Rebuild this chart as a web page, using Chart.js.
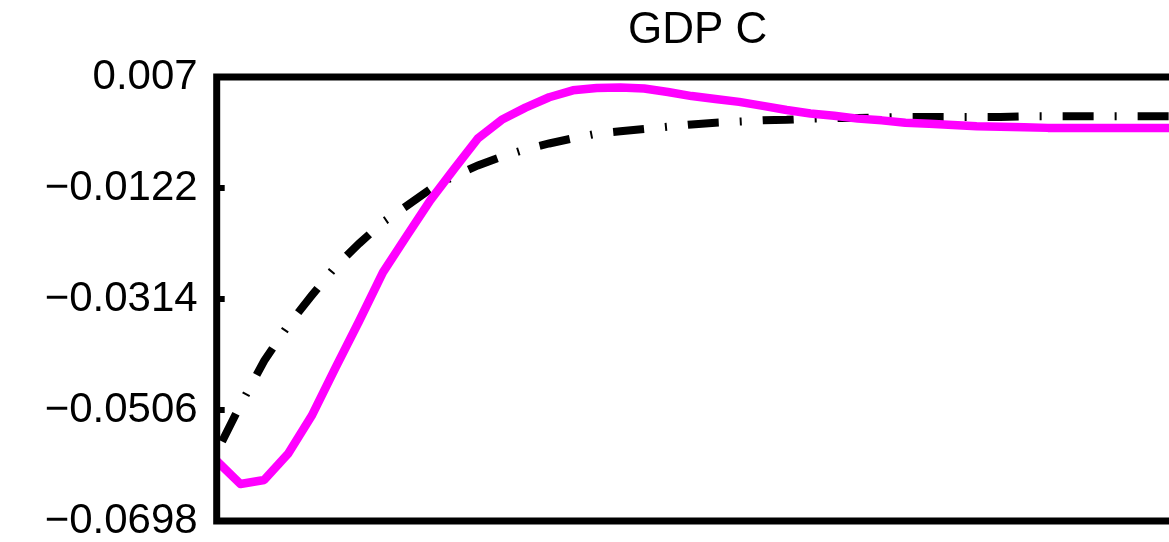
<!DOCTYPE html>
<html>
<head>
<meta charset="utf-8">
<title>GDP C</title>
<script src="https://cdn.jsdelivr.net/npm/chart.js@4/dist/chart.umd.min.js"></script>
<style>
  html, body { margin: 0; padding: 0; background: #ffffff; overflow: hidden; }
  #wrap { width: 1169px; height: 542px; position: relative; }
</style>
</head>
<body>
<div id="wrap"><canvas id="c" width="1169" height="542"></canvas></div>
<script>
// Impulse-response horizon (quarters)
const periods = [1, 2, 3, 4, 5, 6, 7, 8, 9, 10, 11, 12, 13, 14, 15, 16, 17, 18, 19, 20,
                 21, 22, 23, 24, 25, 26, 27, 28, 29, 30, 31, 32, 33, 34, 35, 36, 37, 38, 39, 40, 41, 42];

// Response of GDP C, solid magenta series
const gdpSolid = [-0.0594, -0.0634, -0.0627, -0.0582, -0.0516, -0.0433, -0.0352, -0.0268, -0.0205, -0.0143,
                  -0.0089, -0.0036, -0.0004, 0.0017, 0.0035, 0.0047, 0.0051, 0.0052, 0.0050, 0.0044,
                  0.0037, 0.0032, 0.0027, 0.0020, 0.0013, 0.0007, 0.0003, -0.0002, -0.0005, -0.0009,
                  -0.0011, -0.0013, -0.0015, -0.0016, -0.0017, -0.0018, -0.0018, -0.0018, -0.0018, -0.0018,
                  -0.0018, -0.0018];

// Response of GDP C, dash-dot black series
const gdpDashDot = [-0.0579, -0.0497, -0.0421, -0.0360, -0.0308, -0.0258, -0.0218, -0.0181, -0.0153, -0.0124,
                    -0.0101, -0.0083, -0.0068, -0.0055, -0.0045, -0.0036, -0.0028, -0.0024, -0.0020, -0.0016,
                    -0.0012, -0.0009, -0.0007, -0.0005, -0.0004, -0.0002, -0.0001, -0.0001, 0.0000, 0.0001,
                    0.0001, 0.0001, 0.0001, 0.0001, 0.0002, 0.0002, 0.0002, 0.0002, 0.0002, 0.0002,
                    0.0002, 0.0002];

// Y axis ticks and their printed labels
const yTickValues = [-0.0698, -0.0506, -0.0314, -0.0122, 0.007];
const yTickLabels = ['\u22120.0698', '\u22120.0506', '\u22120.0314', '\u22120.0122', '0.007'];

const panelTitle = 'GDP C';
const panelHorizon = [1, 41.5];   // full x extent of the panel
const visibleMaxPeriod = 41.1;    // part of the panel that fits on the canvas

const FONT = "'Liberation Sans', Arial, Helvetica, sans-serif";

// Thick box frame with short inward tick marks, drawn over the data
const panelFrame = {
  id: 'panelFrame',
  afterDatasetsDraw(chart) {
    const { ctx, chartArea: a, scales } = chart;
    ctx.save();
    ctx.strokeStyle = '#000000';
    ctx.lineWidth = 7;
    ctx.lineJoin = 'miter';
    ctx.lineCap = 'butt';
    ctx.beginPath();
    ctx.moveTo(a.right + 20, a.top);
    ctx.lineTo(a.left, a.top);
    ctx.lineTo(a.left, a.bottom);
    ctx.lineTo(a.right + 20, a.bottom);
    ctx.stroke();
    ctx.lineWidth = 6;
    yTickValues.forEach(v => {
      const py = scales.y.getPixelForValue(v);
      ctx.beginPath();
      ctx.moveTo(a.left, py);
      ctx.lineTo(a.left + 8, py);
      ctx.stroke();
    });
    ctx.restore();
  }
};

// Title centred over the whole panel width
const panelTitlePlugin = {
  id: 'panelTitle',
  afterDraw(chart) {
    const { ctx, scales } = chart;
    const cx = scales.x.getPixelForValue((panelHorizon[0] + panelHorizon[1]) / 2);
    ctx.save();
    ctx.fillStyle = '#000000';
    ctx.font = '44px ' + FONT;
    ctx.textAlign = 'center';
    ctx.textBaseline = 'middle';
    ctx.fillText(panelTitle, cx, 31);
    ctx.restore();
  }
};

new Chart(document.getElementById('c'), {
  type: 'line',
  data: {
    labels: periods,
    datasets: [
      {
        label: 'solid',
        data: periods.map((p, i) => ({ x: p, y: gdpSolid[i] })),
        borderColor: '#ff00ff',
        borderWidth: 8.5,
        pointRadius: 0,
        tension: 0,
        fill: false,
        borderJoinStyle: 'round'
      },
      {
        label: 'dash-dot',
        data: periods.map((p, i) => ({ x: p, y: gdpDashDot[i] })),
        borderColor: '#000000',
        borderWidth: 8,
        borderDash: [31, 21, 2, 21],
        borderDashOffset: 63,
        borderCapStyle: 'butt',
        pointRadius: 0,
        tension: 0,
        fill: false
      }
    ]
  },
  options: {
    responsive: false,
    animation: false,
    devicePixelRatio: 1,
    layout: { padding: { top: 77, bottom: 21, left: 0, right: 0 } },
    plugins: {
      legend: { display: false },
      title: { display: false },
      tooltip: { enabled: false }
    },
    scales: {
      x: {
        type: 'linear',
        min: panelHorizon[0],
        max: visibleMaxPeriod,
        display: false
      },
      y: {
        type: 'linear',
        min: yTickValues[0],
        max: yTickValues[yTickValues.length - 1],
        afterBuildTicks: scale => { scale.ticks = yTickValues.map(v => ({ value: v })); },
        afterFit: scale => {
          scale.width = 216.7;
          scale.paddingTop = 0;
          scale.paddingBottom = 0;
        },
        grid: { display: false, drawTicks: false },
        border: { display: false },
        ticks: {
          autoSkip: false,
          padding: 19,
          color: '#000000',
          font: { family: FONT, size: 42, lineHeight: 1 },
          callback: (v, i) => yTickLabels[i]
        }
      }
    }
  },
  plugins: [panelFrame, panelTitlePlugin]
});
</script>
</body>
</html>
